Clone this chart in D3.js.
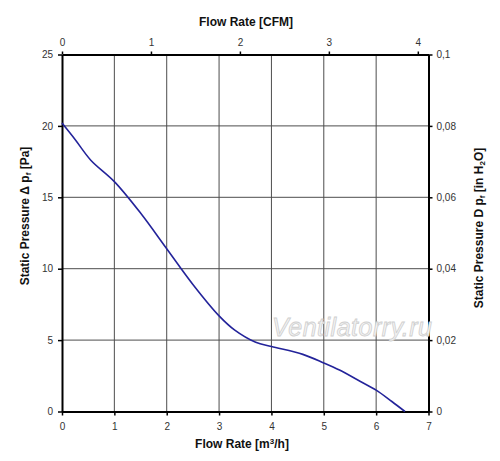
<!DOCTYPE html>
<html lang="en">
<head>
  <meta charset="UTF-8">
  <title>Fan curve</title>
  <script src="https://d3js.org/d3.v7.min.js"></script>
  <style>
    body { margin: 0; padding: 0; background: #fff; }
    svg { display: block; font-family: Arial, 'Liberation Sans', sans-serif; }
    .tick text { fill: #333; font-size: 10px; }
    .grid line { stroke: #4d4d4d; stroke-width: 1; }
    .title { font-size: 12px; font-weight: bold; fill: #111; }
  </style>
</head>
<body>
  <div id="chart"></div>
  <script>
    // curve: flow [m3/h] vs static pressure [Pa]
    const flowM3h = [0, 0.25, 0.55, 1.0, 1.5, 2.0, 2.5, 3.0, 3.3, 3.7, 4.0, 4.6, 5.0, 5.3, 5.7, 6.0, 6.3, 6.55];
    const pressurePa = [20.2, 19.05, 17.6, 16.1, 13.9, 11.4, 8.9, 6.7, 5.7, 4.85, 4.55, 4.0, 3.4, 2.9, 2.1, 1.5, 0.7, 0];

    const bottomTicks = [0, 1, 2, 3, 4, 5, 6, 7];
    const leftTicks = [0, 5, 10, 15, 20, 25];
    const topTicks = [0, 1, 2, 3, 4];
    const rightTicks = [0, 0.02, 0.04, 0.06, 0.08, 0.1];

    const width = 500, height = 461;
    const margin = { top: 54.5, right: 71.5, bottom: 49.5, left: 62 };
    const M3H_PER_CFM = 1.699;

    const svg = d3.select("#chart").append("svg")
      .attr("width", width)
      .attr("height", height);

    const x = d3.scaleLinear().domain([0, 7]).range([margin.left, width - margin.right]);
    const y = d3.scaleLinear().domain([0, 25]).range([height - margin.bottom, margin.top]);
    const xTop = d3.scaleLinear().domain([0, 7 / M3H_PER_CFM]).range(x.range());
    const yRight = d3.scaleLinear().domain([0, 0.1]).range(y.range());

    const plain = d => String(d);
    const comma = d => String(d).replace(".", ",");

    // grid
    const grid = svg.append("g").attr("class", "grid");
    grid.selectAll(".v").data(bottomTicks.slice(1, -1)).enter().append("line")
      .attr("x1", d => x(d)).attr("x2", d => x(d))
      .attr("y1", y(0)).attr("y2", y(25));
    grid.selectAll(".h").data(leftTicks.slice(1, -1)).enter().append("line")
      .attr("x1", x(0)).attr("x2", x(7))
      .attr("y1", d => y(d)).attr("y2", d => y(d));

    // axes
    function styleAxis(g) {
      g.select(".domain").attr("stroke", "#000").attr("stroke-width", 2);
      g.selectAll(".tick line").attr("stroke", "#000").attr("stroke-width", 1.5);
    }

    svg.append("g")
      .attr("transform", `translate(0,${y(0)})`)
      .call(d3.axisBottom(x).tickValues(bottomTicks).tickFormat(plain).tickSize(4).tickSizeOuter(0).tickPadding(7))
      .call(styleAxis);

    svg.append("g")
      .attr("transform", `translate(${x(0)},0)`)
      .call(d3.axisLeft(y).tickValues(leftTicks).tickFormat(plain).tickSize(4).tickSizeOuter(0).tickPadding(5))
      .call(styleAxis);

    svg.append("g")
      .attr("transform", `translate(0,${y(25)})`)
      .call(d3.axisTop(xTop).tickValues(topTicks).tickFormat(plain).tickSize(3).tickSizeOuter(0).tickPadding(6))
      .call(styleAxis);

    svg.append("g")
      .attr("transform", `translate(${x(7)},0)`)
      .call(d3.axisRight(yRight).tickValues(rightTicks).tickFormat(comma).tickSize(4).tickSizeOuter(0).tickPadding(4))
      .call(styleAxis);

    // watermark
    svg.append("text")
      .attr("x", 352).attr("y", 336)
      .attr("text-anchor", "middle")
      .attr("font-size", 25)
      .attr("font-style", "italic")
      .attr("textLength", 160)
      .attr("fill", "#f4f4f4")
      .attr("stroke", "#cfcfcf")
      .attr("stroke-width", 0.8)
      .text("Ventilatorry.ru");

    // curve
    const points = flowM3h.map((f, i) => [f, pressurePa[i]]);
    svg.append("path")
      .datum(points)
      .attr("fill", "none")
      .attr("stroke", "#23239a")
      .attr("stroke-width", 1.6)
      .attr("d", d3.line().x(d => x(d[0])).y(d => y(d[1])).curve(d3.curveCatmullRom.alpha(0.5)));

    // titles
    svg.append("text").attr("class", "title")
      .attr("x", 246).attr("y", 26).attr("text-anchor", "middle")
      .text("Flow Rate [CFM]");

    const bottomTitle = svg.append("text").attr("class", "title")
      .attr("x", 242).attr("y", 448).attr("text-anchor", "middle");
    bottomTitle.append("tspan").text("Flow Rate [m");
    bottomTitle.append("tspan").attr("font-size", 8).attr("dy", -4).text("3");
    bottomTitle.append("tspan").attr("dy", 4).text("/h]");

    const leftTitle = svg.append("text").attr("class", "title")
      .attr("transform", "translate(29,216) rotate(-90)")
      .attr("text-anchor", "middle");
    leftTitle.append("tspan").text("Static Pressure Δ p");
    leftTitle.append("tspan").attr("font-size", 8).attr("dy", 2).text("f");
    leftTitle.append("tspan").attr("dy", -2).text(" [Pa]");

    const rightTitle = svg.append("text").attr("class", "title")
      .attr("transform", "translate(483,228) rotate(-90)")
      .attr("text-anchor", "middle");
    rightTitle.append("tspan").text("Static Pressure D p");
    rightTitle.append("tspan").attr("font-size", 8).attr("dy", 2).text("f");
    rightTitle.append("tspan").attr("dy", -2).text(" [in H");
    rightTitle.append("tspan").attr("font-size", 8).attr("dy", 2).text("2");
    rightTitle.append("tspan").attr("dy", -2).text("O]");
  </script>
</body>
</html>
